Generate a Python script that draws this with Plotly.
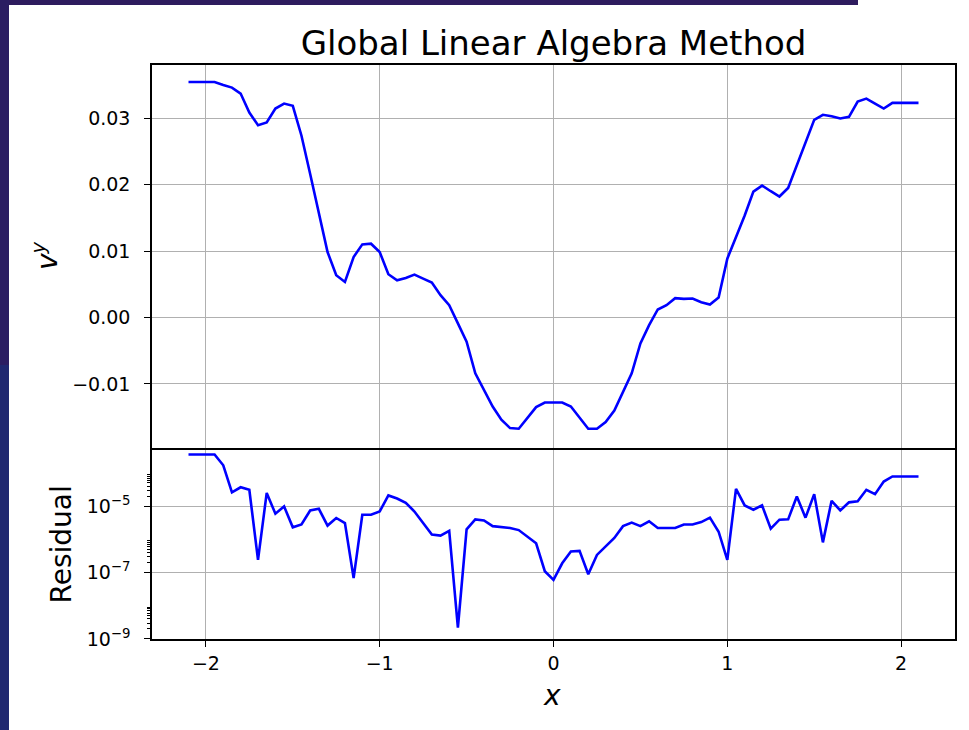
import plotly.graph_objects as go

# sample positions
x_vals = [
    -2.10, -2.05, -2.00, -1.95, -1.90, -1.85, -1.80, -1.75, -1.70, -1.65,
    -1.60, -1.55, -1.50, -1.45, -1.40, -1.35, -1.30, -1.25, -1.20, -1.15,
    -1.10, -1.05, -1.00, -0.95, -0.90, -0.85, -0.80, -0.75, -0.70, -0.65,
    -0.60, -0.55, -0.50, -0.45, -0.40, -0.35, -0.30, -0.25, -0.20, -0.15,
    -0.10, -0.05, 0.00, 0.05, 0.10, 0.15, 0.20, 0.25, 0.30, 0.35,
    0.40, 0.45, 0.50, 0.55, 0.60, 0.65, 0.70, 0.75, 0.80, 0.85,
    0.90, 0.95, 1.00, 1.05, 1.10, 1.15, 1.20, 1.25, 1.30, 1.35,
    1.40, 1.45, 1.50, 1.55, 1.60, 1.65, 1.70, 1.75, 1.80, 1.85,
    1.90, 1.95, 2.00, 2.05, 2.10,
]

# v^y solution
vy_vals = [
    0.03545, 0.03545, 0.03545, 0.03545, 0.0350, 0.0346, 0.0337, 0.03085, 0.02895, 0.02935,
    0.03145, 0.0322, 0.03185, 0.02735, 0.0216, 0.0156, 0.00985, 0.00635, 0.00535, 0.0091,
    0.0110, 0.0111, 0.00985, 0.0065, 0.0056, 0.00595, 0.00645, 0.00585, 0.00525, 0.00335,
    0.00185, -0.0009, -0.00365, -0.0084, -0.0109, -0.0134, -0.0154, -0.01665, -0.01675, -0.01515,
    -0.0135, -0.0128, -0.01275, -0.0128, -0.0134, -0.01515, -0.01675, -0.01675, -0.01575, -0.0140,
    -0.01115, -0.0084, -0.0039, -0.00115, 0.0012, 0.00185, 0.0029, 0.0028, 0.00285, 0.0023,
    0.00195, 0.0030, 0.00885, 0.0121, 0.01535, 0.01895, 0.01985, 0.0190, 0.0182, 0.0195,
    0.0230, 0.02645, 0.02975, 0.0305, 0.0303, 0.02995, 0.0302, 0.0325, 0.03295, 0.0322,
    0.03145, 0.0323, 0.0323, 0.0323, 0.0323,
]

# residual of the linear solve
residual_vals = [
    3.6e-4, 3.6e-4, 3.6e-4, 3.6e-4, 1.7e-4, 2.6e-5, 3.7e-5, 3.1e-5, 2.4e-7, 2.5e-5,
    5.9e-6, 9.8e-6, 2.3e-6, 2.8e-6, 7.4e-6, 8.3e-6, 2.6e-6, 4.4e-6, 3.1e-6, 6.8e-8,
    5.5e-6, 5.5e-6, 6.9e-6, 2.1e-5, 1.7e-5, 1.26e-5, 6.9e-6, 3.0e-6, 1.4e-6, 1.3e-6,
    1.8e-6, 2.2e-9, 2.0e-6, 4.0e-6, 3.7e-6, 2.5e-6, 2.3e-6, 2.2e-6, 1.9e-6, 1.2e-6,
    7.6e-7, 1.1e-7, 6.0e-8, 1.9e-7, 4.3e-7, 4.5e-7, 8.9e-8, 3.4e-7, 6.0e-7, 1.1e-6,
    2.5e-6, 3.2e-6, 2.5e-6, 3.5e-6, 2.2e-6, 2.2e-6, 2.2e-6, 2.8e-6, 2.8e-6, 3.3e-6,
    4.5e-6, 1.7e-6, 2.4e-7, 3.3e-5, 1.05e-5, 7.8e-6, 1.05e-5, 2.1e-6, 3.9e-6, 4.0e-6,
    1.95e-5, 4.5e-6, 2.3e-5, 8.1e-7, 1.45e-5, 7.4e-6, 1.3e-5, 1.4e-5, 3.1e-5, 2.3e-5,
    5.5e-5, 7.8e-5, 7.8e-5, 7.8e-5, 7.8e-5,
]

x_ticks = [-2, -1, 0, 1, 2]
x_ticktext = ["\u22122", "\u22121", "0", "1", "2"]
vy_ticks = [-0.01, 0.00, 0.01, 0.02, 0.03]
vy_ticktext = ["\u22120.01", "0.00", "0.01", "0.02", "0.03"]
res_ticks = [1e-9, 1e-7, 1e-5]
res_ticktext = ["10<sup>\u22129</sup>", "10<sup>\u22127</sup>", "10<sup>\u22125</sup>"]
res_minor = [k * d for d in res_ticks for k in range(2, 10)]

W, H = 969, 730
L, R, T, B = 152, 14, 65, 91
PW, PH = W - L - R, H - T - B


def px(xp):
    return (xp - L) / PW


def py(yp):
    return (H - B - yp) / PH


FONT = "DejaVu Sans"
GRID = "#b0b0b0"
BLUE = "#0000ff"

base = dict(
    showline=True, linecolor="black", linewidth=1.5,
    tickwidth=1.3, tickcolor="black",
    showgrid=True, gridcolor=GRID, gridwidth=1.2, zeroline=False,
    tickfont=dict(family=FONT, size=19, color="black"),
)

fig = go.Figure()
fig.add_trace(go.Scatter(x=x_vals, y=vy_vals, mode="lines", xaxis="x2", yaxis="y2",
                         line=dict(color=BLUE, width=2.6), showlegend=False))
fig.add_trace(go.Scatter(x=x_vals, y=residual_vals, mode="lines", xaxis="x", yaxis="y",
                         line=dict(color=BLUE, width=2.6), showlegend=False))

fig.update_layout(
    width=W, height=H,
    margin=dict(l=L, r=R, t=T, b=B, pad=0),
    paper_bgcolor="white", plot_bgcolor="white",
    font=dict(family=FONT, color="black"),
    title=dict(text="Global Linear Algebra Method", x=0.5, xref="paper", xanchor="center",
               y=1 - 43 / H, yref="container", yanchor="middle",
               font=dict(family=FONT, size=34, color="black")),
    # lower panel: residual (log scale), carries the x tick labels
    xaxis=dict(domain=[0, 1], anchor="y", range=[-2.31, 2.31], mirror=False,
               ticks="outside", ticklen=6,
               tickvals=x_ticks, ticktext=x_ticktext, **base),
    yaxis=dict(domain=[0, 1 / 3], anchor="x", type="log", range=[-9.0, -3.24],
               mirror=True, ticks="outside", ticklen=6, ticklabelstandoff=10,
               tickvals=res_ticks, ticktext=res_ticktext,
               minor=dict(tickmode="array", tickvals=res_minor, ticks="outside",
                          ticklen=3.5, tickwidth=1, tickcolor="black", showgrid=False),
               **base),
    # upper panel: v^y, its frame line also closes the lower panel
    xaxis2=dict(domain=[0, 1], anchor="y2", matches="x", range=[-2.31, 2.31],
                mirror=True, ticks="", tickvals=x_ticks, showticklabels=False, **base),
    yaxis2=dict(domain=[1 / 3, 1], anchor="x2", range=[-0.0196, 0.0380],
                mirror=True, ticks="outside", ticklen=6, ticklabelstandoff=10,
                tickvals=vy_ticks, ticktext=vy_ticktext, **base),
)

# axis labels
fig.add_annotation(text="<i>v</i><sup><i>y</i></sup>", xref="paper", yref="paper",
                   x=px(45), y=py(256), textangle=-90, showarrow=False,
                   xanchor="center", yanchor="middle",
                   font=dict(family=FONT, size=28, color="black"))
fig.add_annotation(text="Residual", xref="paper", yref="paper",
                   x=px(60.5), y=py(545), textangle=-90, showarrow=False,
                   xanchor="center", yanchor="middle",
                   font=dict(family=FONT, size=28, color="black"))
fig.add_annotation(text="<i>x</i>", xref="paper", yref="paper",
                   x=px(552), y=py(695), showarrow=False,
                   xanchor="center", yanchor="middle",
                   font=dict(family=FONT, size=28, color="black"))

# dark slide edges behind the figure
fig.add_shape(type="rect", xref="paper", yref="paper", layer="below",
              x0=px(0), x1=px(858), y0=py(5), y1=py(0),
              fillcolor="#2e1c5e", line_width=0)
fig.add_shape(type="rect", xref="paper", yref="paper", layer="below",
              x0=px(0), x1=px(9), y0=py(365), y1=py(0),
              fillcolor="#2b1d62", line_width=0)
fig.add_shape(type="rect", xref="paper", yref="paper", layer="below",
              x0=px(0), x1=px(9), y0=py(730), y1=py(365),
              fillcolor="#1f2870", line_width=0)

fig.write_html("out.html")
